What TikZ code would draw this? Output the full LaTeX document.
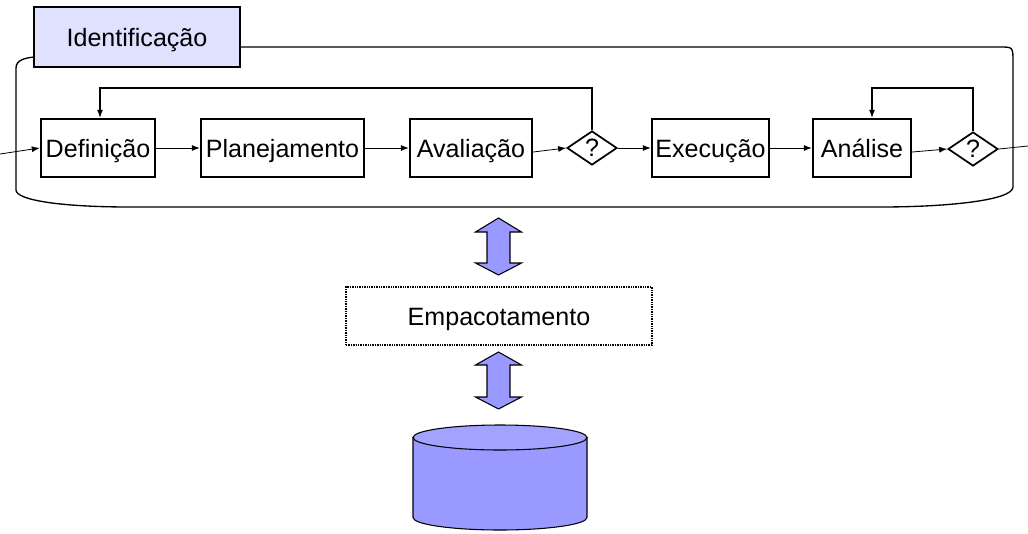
\documentclass[tikz,border=0pt]{standalone}
\usepackage{fontspec}
\setmainfont{Liberation Sans}
\usetikzlibrary{shapes.geometric,arrows.meta}
\definecolor{lav}{HTML}{E0E0FF}
\definecolor{cylc}{HTML}{9999FF}
\definecolor{cyltop}{HTML}{A3A3FF}
\begin{document}
\begin{tikzpicture}[x=0.75pt,y=-0.75pt,
  every node/.style={font=\fontsize{18.8}{22}\selectfont},
  txt/.style={text height=16pt,text depth=2pt},
  proc/.style={draw,line width=1.8pt,minimum height=43.5pt,inner sep=0pt,txt},
  dec/.style={draw,diamond,line width=1.3pt,minimum width=37.5pt,minimum height=25.5pt,inner sep=0pt,aspect=1.5},
  flow/.style={line width=0.6pt,-{Latex[length=6pt,width=4.5pt]}},
  fb/.style={line width=0.8pt,-{Latex[length=6pt,width=4.5pt]}},
  dbl/.style={fill=cylc,draw=black,line width=0.8pt,line join=miter}]
\useasboundingbox (0,0) rectangle (1028,533);
% frame
\draw[line width=1pt] (240,47) -- (1000,47) .. controls (1013,47) .. (1013,62) -- (1013,187)
  .. controls (1013,200) and (950,207) .. (880,207) -- (130,207)
  .. controls (60,207) and (16,200) .. (16,190) -- (16,68)
  .. controls (16,60) and (25,58) .. (34,57);
\node[draw,fill=lav,line width=1.8pt,minimum width=154.5pt,minimum height=45pt,inner sep=0pt,txt] (id) at (137,37) {Identificação};
% process
\node[proc,minimum width=85.5pt] (def) at (98,148) {Definição};
\node[proc,minimum width=122.25pt] (plan) at (282.5,148) {Planejamento};
\node[proc,minimum width=91.5pt] (aval) at (471,148) {Avaliação};
\node[dec] (d1) at (592,148) {?};
\node[proc,minimum width=87.75pt] (exec) at (710.5,148) {Execução};
\node[proc,minimum width=73.5pt] (anal) at (862,148) {Análise};
\node[dec] (d2) at (973,149) {?};
\coordinate (in) at (0,154);
\coordinate (out) at (1028,146);
\draw[flow] (in) -- (def.west);
\draw[flow] (def) -- (plan);
\draw[flow] (plan) -- (aval);
\draw[flow] ([yshift=-3pt]aval.east) -- (d1.west);
\draw[flow] (d1.east) -- (exec.west);
\draw[flow] (exec) -- (anal);
\draw[flow] ([yshift=-3pt]anal.east) -- (d2.west);
\draw[line width=0.6pt] (d2.east) -- (out);
\draw[fb] (d1.north) -- (d1.north |- 0,88) -- (100,88) -- (def.north -| 100,0);
\draw[fb] (d2.north) -- (d2.north |- 0,88) -- (872,88) -- (anal.north -| 872,0);
% double arrows
\draw[dbl] (498.5,218) -- (521.5,232) -- (510,232) -- (510,263) -- (521.5,263) -- (498.5,275)
  -- (475.5,263) -- (487,263) -- (487,232) -- (475.5,232) -- cycle;
\node[draw,line width=1.5pt,dash pattern=on 1pt off 0.8pt,minimum width=229.5pt,minimum height=43.5pt,inner sep=0pt,txt] (emp) at (499,316) {Empacotamento};
\draw[dbl] (498.5,352) -- (521.5,365) -- (510,365) -- (510,397) -- (521.5,397) -- (498.5,409)
  -- (475.5,397) -- (487,397) -- (487,365) -- (475.5,365) -- cycle;
% cylinder
\filldraw[fill=cylc,draw=black,line width=0.8pt] (413,437.5) -- (413,517.5) arc[start angle=180,end angle=0,x radius=87,y radius=12.5] -- (587,437.5) -- cycle;
\filldraw[fill=cyltop,draw=black,line width=0.8pt] (500,437.5) ellipse [x radius=87,y radius=12.5];
\end{tikzpicture}
\end{document}
